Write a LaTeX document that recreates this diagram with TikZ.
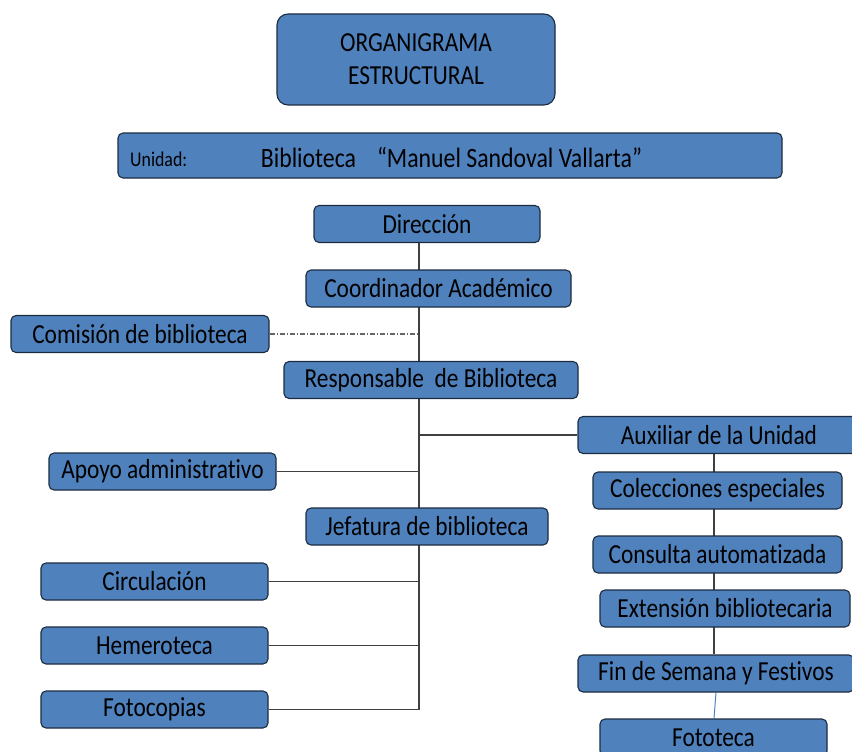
\documentclass[tikz,border=0pt]{standalone}
\usepackage{fontspec}
\setmainfont[FakeStretch=0.85, Ligatures=NoCommon]{Carlito}
\usetikzlibrary{positioning,calc,backgrounds}
\definecolor{boxblue}{HTML}{4F81BD}
\definecolor{boxedge}{HTML}{1C2C40}
\definecolor{linkblue}{HTML}{4F81BD}
\tikzset{
  box/.style={draw=boxedge, fill=boxblue, line width=1.1pt, rounded corners=5pt,
    minimum height=37pt, inner sep=0pt, font=\fontsize{27.5}{30}\selectfont},
  link/.style={draw=black!75, line width=1.1pt},
}

\begin{document}
\begin{tikzpicture}[x=1pt,y=-1pt]
\useasboundingbox (0,0) rectangle (852,752);
% title
\node[box, rounded corners=11pt, minimum width=278pt, minimum height=91pt, align=center,
  font=\fontsize{27.5}{33}\selectfont] (titulo) at (416,59.5) {ORGANIGRAMA\\ESTRUCTURAL};
\node[box, minimum width=664pt, minimum height=45pt] (unidad) at (450,155.5) {};
\node[anchor=west, inner sep=0pt, font=\fontsize{21}{23}\selectfont] (unidadlbl) at (130,159.5) {Unidad:};
\node[font=\fontsize{28}{30}\selectfont] (unidadnom) at (451.5,158)
  {Biblioteca\hspace{21pt}“Manuel Sandoval Vallarta”};
% trunk
\coordinate (t) at (419,0);
\coordinate (r) at (714,0);
\node[box, minimum width=226pt] (dir) at (427,224) {Dirección};
\node[box, minimum width=265pt] (coord) at (438.5,288.5) {Coordinador Académico};
\node[box, minimum width=258pt] (comision) at (140,334) {Comisión de biblioteca};
\node[box, minimum width=294pt] (resp) at (431,380) {Responsable\ \ de Biblioteca};
\node[box, minimum width=282pt] (aux) at (719,435) {Auxiliar de la Unidad};
\node[box, minimum width=227pt] (apoyo) at (162.5,471.5) {Apoyo administrativo};
\node[box, minimum width=242pt] (jefa) at (427,526.5) {Jefatura de biblioteca};
\node[box, minimum width=227pt] (circ) at (154.5,581.5) {Circulación};
\node[box, minimum width=227pt] (hemero) at (154.5,645.5) {Hemeroteca};
\node[box, minimum width=227pt] (fotoc) at (154.5,709.5) {Fotocopias};
% right column
\node[box, minimum width=249pt] (colec) at (717.5,490.5) {Colecciones especiales};
\node[box, minimum width=249pt] (consul) at (717.5,554.5) {Consulta automatizada};
\node[box, minimum width=250pt] (ext) at (725,608.5) {Extensión bibliotecaria};
\node[box, minimum width=276pt] (finsem) at (716,673.5) {Fin de Semana y Festivos};
\node[box, minimum width=227pt] (fotot) at (713.5,737.5) {Fototeca};
% connectors behind the boxes
\begin{scope}[on background layer]
\draw[link] (dir.south -| t) -- (fotoc.east -| t) -- (fotoc.east);
\draw[link, black!60, dash pattern=on 5pt off 2pt on 1pt off 2pt] (comision.east) -- (comision.east -| t);
\draw[link] (aux.west) -- (aux.west -| t);
\draw[link] (apoyo.east) -- (apoyo.east -| t);
\draw[link] (circ.east) -- (circ.east -| t);
\draw[link] (hemero.east) -- (hemero.east -| t);
\draw[link] (aux.south -| r) -- (finsem.north -| r);
\draw[linkblue, line width=1pt] ([xshift=2pt]finsem.south -| r) -- (fotot.north -| r);
\end{scope}
\end{tikzpicture}
\end{document}
